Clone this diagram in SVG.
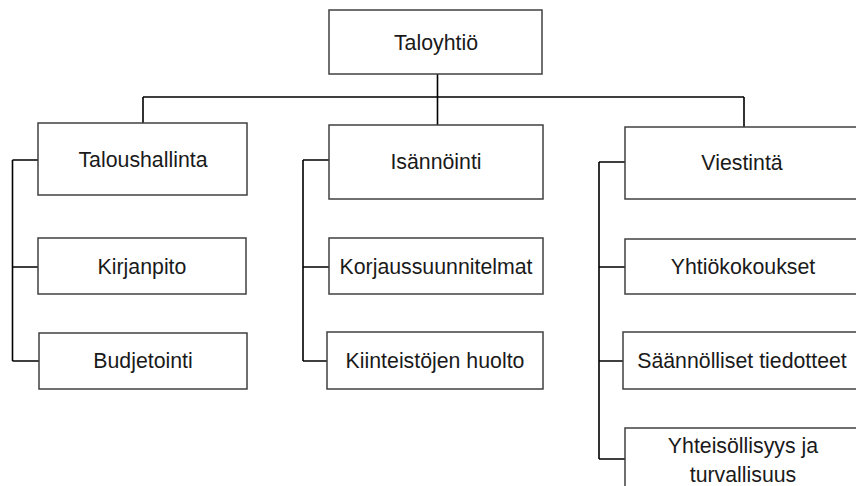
<svg xmlns="http://www.w3.org/2000/svg" width="856" height="486" viewBox="0 0 856 486">
<style>
.box{fill:#fff;stroke:#404040;stroke-width:1.5}
.lbl{font-family:"Liberation Sans",Arial,sans-serif;font-size:21.3px;fill:#1a1a1a;text-anchor:middle}
.con{fill:none;stroke:#000;stroke-width:1.6}
</style>
<rect width="856" height="486" fill="#fff"/>
<g id="connectors">
<path class="con" d="M437.5,74V125M143,97H744M143,97V123M744,97V127"/>
<path class="con" d="M12.5,160V361M12.5,160H38M12.5,267H38M12.5,361H39"/>
<path class="con" d="M303,160V361M303,160H329M303,267H329M303,361H327"/>
<path class="con" d="M599,162V459M599,162H625M599,267H625M599,361H623M599,459H625"/>
</g>
<g id="taloyhtio"><rect class="box" x="329" y="10" width="213" height="64"/><text class="lbl" x="436" y="49.5">Taloyhtiö</text></g>
<g id="taloushallinta"><rect class="box" x="38" y="123" width="209" height="72"/><text class="lbl" x="143" y="166.5">Taloushallinta</text></g>
<g id="kirjanpito"><rect class="box" x="38" y="238" width="208" height="56"/><text class="lbl" x="142" y="274">Kirjanpito</text></g>
<g id="budjetointi"><rect class="box" x="39" y="333" width="208" height="56"/><text class="lbl" x="143" y="368">Budjetointi</text></g>
<g id="isannointi"><rect class="box" x="329" y="125" width="214" height="74"/><text class="lbl" x="436" y="169">Isännöinti</text></g>
<g id="korjaussuunnitelmat"><rect class="box" x="329" y="238" width="214" height="56"/><text class="lbl" x="436" y="274">Korjaussuunnitelmat</text></g>
<g id="kiinteistojen-huolto"><rect class="box" x="327" y="332" width="216" height="57"/><text class="lbl" x="435" y="368">Kiinteistöjen huolto</text></g>
<g id="viestinta"><rect class="box" x="625" y="127" width="236" height="72"/><text class="lbl" x="742" y="170">Viestintä</text></g>
<g id="yhtiokokoukset"><rect class="box" x="625" y="239" width="236" height="55"/><text class="lbl" x="743" y="274">Yhtiökokoukset</text></g>
<g id="saannolliset-tiedotteet"><rect class="box" x="623" y="332" width="238" height="57"/><text class="lbl" x="742" y="368">Säännölliset tiedotteet</text></g>
<g id="yhteisollisyys"><rect class="box" x="625" y="428" width="236" height="80"/><text class="lbl" x="743" y="453">Yhteisöllisyys ja</text><text class="lbl" x="743" y="482">turvallisuus</text></g>
</svg>
